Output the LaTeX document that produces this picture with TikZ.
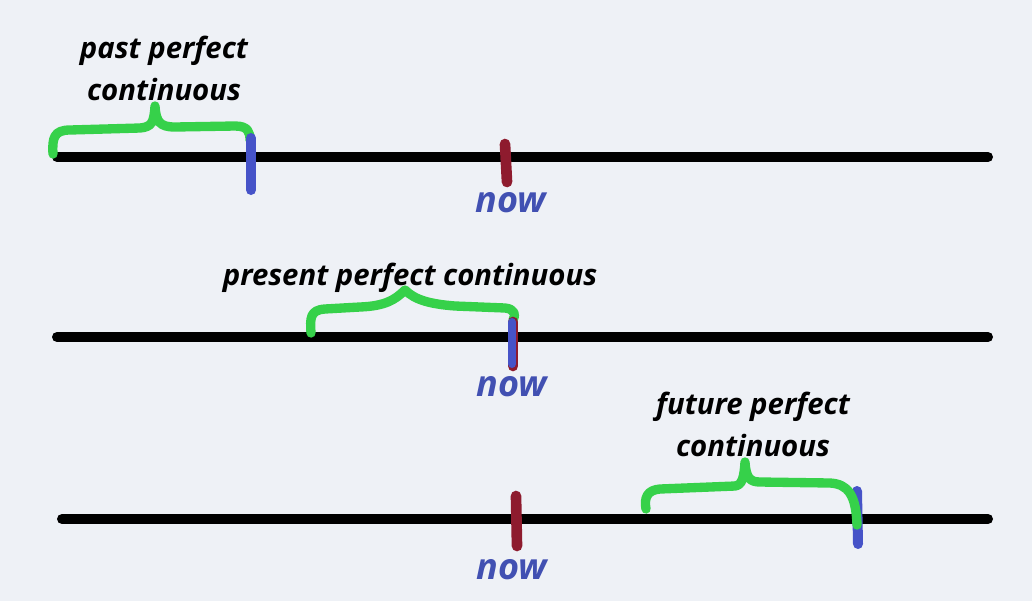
\documentclass[tikz,border=0pt]{standalone}
\usepackage{fontspec}
\setmainfont{Open Sans}
\definecolor{bg}{HTML}{EEF1F6}
\definecolor{gr}{HTML}{36D14A}
\definecolor{bl}{HTML}{4653C8}
\definecolor{rd}{HTML}{8E1B2E}
\definecolor{nowc}{HTML}{4150B2}
\begin{document}
\begin{tikzpicture}[x=0.75pt,y=-0.75pt,
  timeline/.style={line width=7.5pt,line cap=round,black},
  brace/.style={line width=7pt,line cap=round,line join=round,gr},
  bluetick/.style={line width=7.5pt,line cap=round,bl},
  redtick/.style={line width=8pt,line cap=round,rd},
  lbl/.style={font=\fontsize{22}{31.5}\selectfont\bfseries\itshape,align=center,inner sep=0pt},
  nowlbl/.style={font=\fontsize{27}{30}\selectfont\bfseries\itshape,text=nowc,inner sep=0pt,anchor=base}]
\fill[bg] (0,0) rectangle (1032,601);
\useasboundingbox (0,0) rectangle (1032,601);
% timeline 1
\coordinate (a1) at (57,157); \coordinate (b1) at (988,157);
\draw[timeline] (a1) -- (b1);
\draw[brace] (53,154) .. controls (52,138) and (54,130) .. (70,130) -- (140,128) .. controls (152,127) and (154,122) .. (155,106)
  .. controls (156,122) and (160,127) .. (175,127) -- (235,126) .. controls (248,126) and (250,132) .. (250,140);
\draw[bluetick] (251,138) -- (251,190);
\draw[redtick] (505,144) -- (507,182);
\node[nowlbl] (now1) at (511,212) {now};
\node[lbl] (l1) at (164,68) {past perfect\\continuous};
% timeline 2
\coordinate (a2) at (57,337); \coordinate (b2) at (988,337);
\draw[timeline] (a2) -- (b2);
\draw[brace] (311,333) .. controls (310,318) and (310,310) .. (325,309) -- (360,307) .. controls (385,306) and (395,300) .. (405,290)
  .. controls (415,300) and (430,304) .. (455,306) -- (505,308) .. controls (515,309) and (516,315) .. (513,320);
\draw[redtick] (513,322) -- (513,366);
\draw[bluetick,line width=6pt] (512,322) -- (512,364);
\node[nowlbl] (now2) at (512,396) {now};
\node[lbl,anchor=base] (l2) at (410,285) {present perfect continuous};
% timeline 3
\coordinate (a3) at (62,519); \coordinate (b3) at (988,519);
\draw[timeline] (a3) -- (b3);
\draw[redtick] (516,496) -- (517,546);
\node[nowlbl] (now3) at (512,579) {now};
\draw[bluetick] (857,491) -- (858,544);
\draw[brace] (646,509) .. controls (644,498) and (647,490) .. (660,489) -- (735,486) .. controls (742,485) and (744,478) .. (745,462)
  .. controls (746,478) and (750,482) .. (760,482) -- (830,483) .. controls (848,484) and (856,495) .. (857,525);
\node[lbl] (l3) at (753,424) {future perfect\\continuous};
\end{tikzpicture}
\end{document}
